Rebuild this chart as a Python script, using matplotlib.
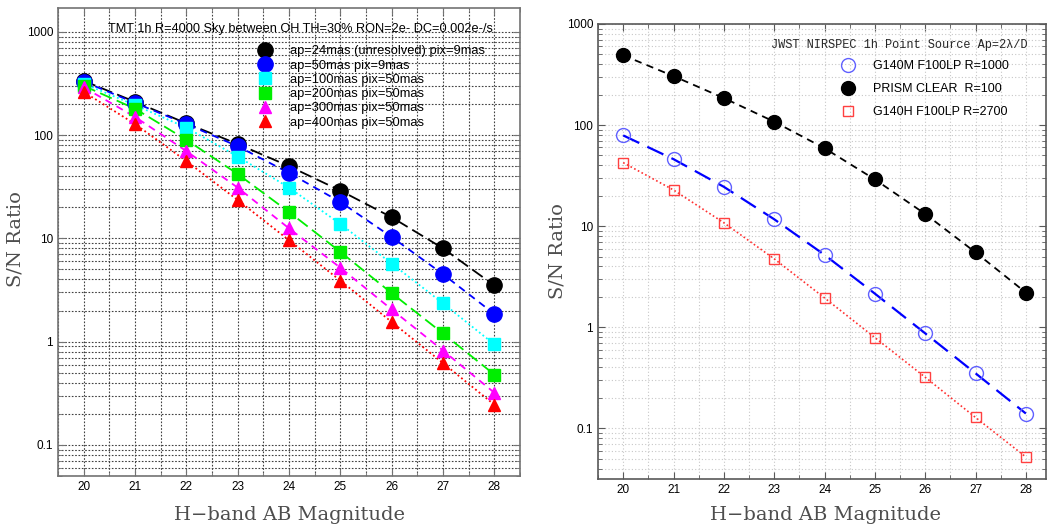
import numpy as np
import matplotlib
matplotlib.use("Agg")
import matplotlib.pyplot as plt
from matplotlib.ticker import FixedLocator, LogLocator, NullFormatter, FixedFormatter

plt.rcParams["font.family"] = ["Liberation Sans", "DejaVu Sans"]

# ---------------------------------------------------------------------------
# Date
# ---------------------------------------------------------------------------
mags = [20, 21, 22, 23, 24, 25, 26, 27, 28]

# stanga: TMT
tmt_labels = ["ap=24mas (unresolved) pix=9mas", "ap=50mas pix=9mas",
              "ap=100mas pix=50mas", "ap=200mas pix=50mas",
              "ap=300mas pix=50mas", "ap=400mas pix=50mas"]
tmt_ap24 = [335, 210, 130, 82, 50, 29, 16, 8.0, 3.5]
tmt_ap50 = [330, 205, 128, 78, 43, 22.5, 10.3, 4.5, 1.85]
tmt_ap100 = [315, 195, 118, 62, 31, 13.8, 5.7, 2.35, 0.94]
tmt_ap200 = [300, 180, 90, 42, 18, 7.4, 2.95, 1.2, 0.48]
tmt_ap300 = [290, 150, 70, 31, 12.5, 5.2, 2.05, 0.82, 0.32]
tmt_ap400 = [262, 128, 56, 23.5, 9.6, 3.9, 1.55, 0.62, 0.245]

# dreapta: JWST
jwst_labels = ["G140M F100LP R=1000", "PRISM CLEAR  R=100", "G140H F100LP R=2700"]
jwst_g140m = [79, 46, 24.5, 11.7, 5.2, 2.15, 0.87, 0.35, 0.14]
jwst_prism = [490, 305, 185, 108, 59, 29, 13.2, 5.5, 2.2]
jwst_g140h = [42.5, 22.8, 10.8, 4.75, 1.95, 0.79, 0.32, 0.128, 0.052]

ytick_vals = [0.1, 1, 10, 100, 1000]
ytick_text = ["0.1", "1", "10", "100", "1000"]

W, H = 1047, 526
fig = plt.figure(figsize=(W / 100, H / 100), dpi=100)


def px_axes(x0, y0, x1, y1):
    return fig.add_axes([x0 / W, 1 - y1 / H, (x1 - x0) / W, (y1 - y0) / H])


def setup_axes(ax, ylim, xlim, grid_color, grid_ls, spine_color):
    ax.set_yscale("log")
    ax.set_xlim(*xlim)
    ax.set_ylim(*ylim)
    ax.xaxis.set_major_locator(FixedLocator(mags))
    ax.xaxis.set_minor_locator(FixedLocator(np.arange(19.5, 29, 1.0)))
    ax.yaxis.set_major_locator(FixedLocator(ytick_vals))
    ax.yaxis.set_major_formatter(FixedFormatter(ytick_text))
    ax.yaxis.set_minor_locator(LogLocator(base=10, subs=np.arange(2, 10)))
    ax.yaxis.set_minor_formatter(NullFormatter())
    ax.tick_params(which="both", direction="in", top=True, right=True,
                   labelsize=8.5, colors=spine_color, labelcolor="black")
    ax.tick_params(which="major", length=5)
    ax.tick_params(which="minor", length=3)
    ax.grid(True, which="both", color=grid_color, linestyle=grid_ls, linewidth=0.8)
    ax.set_axisbelow(True)
    for s in ax.spines.values():
        s.set_color(spine_color)
        s.set_linewidth(1.2)


# ---------------------------------------------------------------------------
# Panoul stang: TMT
# ---------------------------------------------------------------------------
ax1 = px_axes(58, 8, 520, 476)
setup_axes(ax1, (0.05, 1700), (19.5, 28.5), "0.25", (0, (1.5, 1.5)), "0.45")

tmt_series = [
    (tmt_ap24, "black", (0, (7, 3)), "o", 11),
    (tmt_ap50, "#0000ff", (0, (4, 3)), "o", 11),
    (tmt_ap100, "#00ffff", (0, (1, 1.5)), "s", 8),
    (tmt_ap200, "#00ee00", (0, (7, 3)), "s", 8),
    (tmt_ap300, "#ff00ff", (0, (4, 3)), "^", 9),
    (tmt_ap400, "#ff0000", (0, (1, 1.5)), "^", 9),
]
for (vals, col, ls, mk, ms), lab in zip(tmt_series, tmt_labels):
    ax1.plot(mags, vals, color=col, linestyle=ls, linewidth=1.3)
for (vals, col, ls, mk, ms), lab in zip(tmt_series, tmt_labels):
    ax1.plot(mags, vals, linestyle="none", marker=mk, markersize=ms,
             color=col, markeredgecolor=col, label=lab)

ax1.text(0.524, 0.955, "TMT 1h R=4000 Sky between OH TH=30% RON=2e- DC=0.002e-/s",
         transform=ax1.transAxes, ha="center", va="center", fontsize=9.2)
ax1.legend(loc="upper left", bbox_to_anchor=(0.425, 0.92), frameon=False,
           fontsize=9.3, handlelength=1.6, handletextpad=1.15, labelspacing=0.17,
           borderpad=0, borderaxespad=0, numpoints=1)

# ---------------------------------------------------------------------------
# Panoul drept: JWST
# ---------------------------------------------------------------------------
ax2 = px_axes(598, 24, 1046, 479)
setup_axes(ax2, (0.0315, 1000), (19.5, 28.4), "0.78", (0, (1, 2)), "0.35")

ax2.plot(mags, jwst_g140m, color="#0000ff", linestyle=(0, (8, 4)), linewidth=1.6)
ax2.plot(mags, jwst_prism, color="black", linestyle=(0, (4, 3)), linewidth=1.3)
ax2.plot(mags, jwst_g140h, color="#ff3030", linestyle=(0, (1, 1.5)), linewidth=1.2)
ax2.plot(mags, jwst_g140m, linestyle="none", marker="o", markersize=10,
         markerfacecolor="none", markeredgecolor="#6060ff", markeredgewidth=1.0,
         label=jwst_labels[0])
ax2.plot(mags, jwst_prism, linestyle="none", marker="o", markersize=10,
         color="black", label=jwst_labels[1])
ax2.plot(mags, jwst_g140h, linestyle="none", marker="s", markersize=7,
         markerfacecolor="none", markeredgecolor="#ff4040", markeredgewidth=1.0,
         label=jwst_labels[2])

ax2.text(0.673, 0.953, "JWST NIRSPEC 1h Point Source Ap=2λ/D",
         transform=ax2.transAxes, ha="center", va="center", fontsize=8.6,
         family=["Liberation Mono", "DejaVu Sans Mono"], color="0.15")
ax2.legend(loc="upper left", bbox_to_anchor=(0.535, 0.92), frameon=False,
           fontsize=9, handlelength=1.6, handletextpad=1.2, labelspacing=0.88,
           borderpad=0, borderaxespad=0, numpoints=1)

# ---------------------------------------------------------------------------
# Etichete axe
# ---------------------------------------------------------------------------
lab_kw = dict(family=["DejaVu Serif"], fontsize=14, color="0.3")
fig.text(289 / W, 1 - 515 / H, "H\u2212band AB Magnitude", ha="center", va="center", **lab_kw)
fig.text(825 / W, 1 - 515 / H, "H\u2212band AB Magnitude", ha="center", va="center", **lab_kw)
fig.text(15 / W, 1 - 239 / H, "S/N Ratio", ha="center", va="center", rotation=90, **lab_kw)
fig.text(558 / W, 1 - 251 / H, "S/N Ratio", ha="center", va="center", rotation=90, **lab_kw)

fig.savefig("out.png", dpi=100)
